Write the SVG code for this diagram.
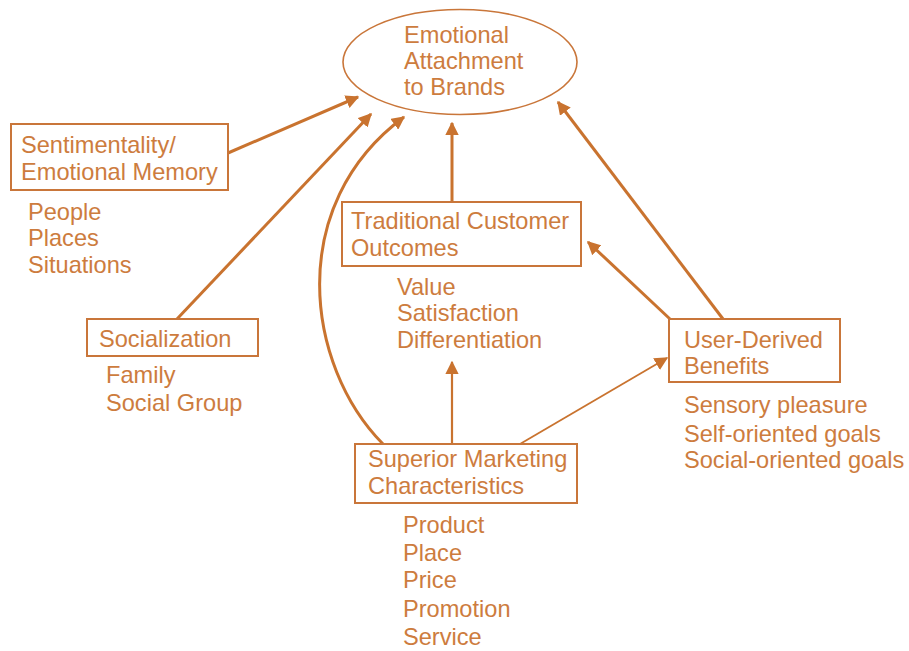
<svg xmlns="http://www.w3.org/2000/svg" width="909" height="651" viewBox="0 0 909 651">
<style>
.t{font-family:"Liberation Sans",Arial,sans-serif;font-size:23.6px;fill:#CD7C3E}
.box{fill:none;stroke:#C9763A;stroke-width:2}
.c{fill:none;stroke:#C9732F;stroke-width:3}
.c2{fill:none;stroke:#C9732F;stroke-width:2.2}
.c3{fill:none;stroke:#C9732F;stroke-width:1.8}
</style>
<defs>
<marker id="ah" viewBox="0 0 10 10" refX="9" refY="5" markerWidth="4.5" markerHeight="4.5" markerUnits="strokeWidth" orient="auto">
<path d="M0,0 L10,5 L0,10 z" fill="#C9732F"/>
</marker>
<marker id="ah2" viewBox="0 0 10 10" refX="9" refY="5" markerWidth="6" markerHeight="6" markerUnits="strokeWidth" orient="auto">
<path d="M0,0 L10,5 L0,10 z" fill="#C9732F"/>
</marker>
<marker id="ah3" viewBox="0 0 10 10" refX="9" refY="5" markerWidth="7.5" markerHeight="7.5" markerUnits="strokeWidth" orient="auto">
<path d="M0,0 L10,5 L0,10 z" fill="#C9732F"/>
</marker>
</defs>
<rect width="909" height="651" fill="#fff"/>
<g id="connectors">
<line class="c" x1="228" y1="153" x2="358" y2="97" marker-end="url(#ah)"/>
<line class="c" x1="177" y1="319" x2="371" y2="114" marker-end="url(#ah)"/>
<path class="c" d="M383,444 C305,365 285,205 404,117" marker-end="url(#ah)"/>
<line class="c" x1="452" y1="202" x2="452" y2="123" marker-end="url(#ah)"/>
<line class="c" x1="723" y1="319" x2="558" y2="102" marker-end="url(#ah)"/>
<line class="c" x1="670" y1="319" x2="588" y2="242" marker-end="url(#ah)"/>
<line class="c2" x1="452" y1="444" x2="452" y2="362" marker-end="url(#ah2)"/>
<line class="c3" x1="520" y1="444" x2="667" y2="358" marker-end="url(#ah3)"/>
</g>
<g id="emotional-attachment">
<ellipse cx="460" cy="62" rx="117" ry="52.5" fill="none" stroke="#C9763A" stroke-width="1.6"/>
<text class="t" x="404" y="43">Emotional</text>
<text class="t" x="404" y="69">Attachment</text>
<text class="t" x="404" y="95">to Brands</text>
</g>
<g id="sentimentality">
<rect class="box" x="11" y="124" width="217" height="66"/>
<text class="t" x="21" y="153">Sentimentality/</text>
<text class="t" x="21" y="180">Emotional Memory</text>
<text class="t" x="28" y="220">People</text>
<text class="t" x="28" y="246">Places</text>
<text class="t" x="28" y="273">Situations</text>
</g>
<g id="socialization">
<rect class="box" x="87" y="319" width="171" height="37"/>
<text class="t" x="99" y="347">Socialization</text>
<text class="t" x="106" y="383">Family</text>
<text class="t" x="106" y="411">Social Group</text>
</g>
<g id="traditional-outcomes">
<rect class="box" x="342" y="202" width="239" height="64"/>
<text class="t" x="351" y="229">Traditional Customer</text>
<text class="t" x="351" y="256">Outcomes</text>
<text class="t" x="397" y="295">Value</text>
<text class="t" x="397" y="321">Satisfaction</text>
<text class="t" x="397" y="348">Differentiation</text>
</g>
<g id="user-derived-benefits">
<rect class="box" x="669" y="319" width="171" height="63"/>
<text class="t" x="684" y="348">User-Derived</text>
<text class="t" x="684" y="374">Benefits</text>
<text class="t" x="684" y="413">Sensory pleasure</text>
<text class="t" x="684" y="442">Self-oriented goals</text>
<text class="t" x="684" y="468">Social-oriented goals</text>
</g>
<g id="superior-marketing">
<rect class="box" x="355" y="444" width="222" height="59"/>
<text class="t" x="368" y="467">Superior Marketing</text>
<text class="t" x="368" y="494">Characteristics</text>
<text class="t" x="403" y="533">Product</text>
<text class="t" x="403" y="561">Place</text>
<text class="t" x="403" y="588">Price</text>
<text class="t" x="403" y="617">Promotion</text>
<text class="t" x="403" y="645">Service</text>
</g>
</svg>
